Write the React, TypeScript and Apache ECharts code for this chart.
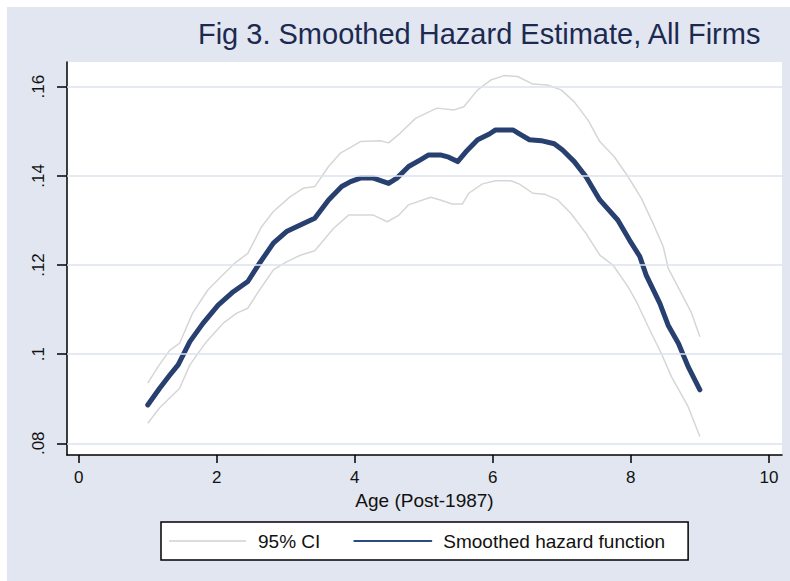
import React, { useEffect, useRef } from "react";
import * as echarts from "echarts";

const titleText = "Fig 3. Smoothed Hazard Estimate, All Firms";
const xAxisTitle = "Age (Post-1987)";
const xTicks = [0, 2, 4, 6, 8, 10];
const yTicks = [0.08, 0.1, 0.12, 0.14, 0.16];

const ageMain = [1.0, 1.17, 1.32, 1.44, 1.61, 1.8, 2.02, 2.24, 2.45, 2.62, 2.82, 3.01, 3.21, 3.42, 3.62, 3.81, 3.94, 4.08, 4.27, 4.49, 4.61, 4.78, 4.95, 5.07, 5.24, 5.36, 5.49, 5.61, 5.78, 5.95, 6.04, 6.29, 6.41, 6.53, 6.7, 6.89, 7.01, 7.18, 7.35, 7.55, 7.81, 7.98, 8.13, 8.22, 8.42, 8.54, 8.69, 8.83, 9.0];
const hazard = [0.0886, 0.0923, 0.0953, 0.0976, 0.1028, 0.1069, 0.111, 0.114, 0.1163, 0.1204, 0.1249, 0.1275, 0.129, 0.1305, 0.1346, 0.1376, 0.1387, 0.1395, 0.1395, 0.1383, 0.1395, 0.1421, 0.1436, 0.1447, 0.1447, 0.1442, 0.1432, 0.1454, 0.1481, 0.1494, 0.1503, 0.1503, 0.1492, 0.1481, 0.1479, 0.1472, 0.1458, 0.1432, 0.1398, 0.1346, 0.1301, 0.1256, 0.1219, 0.1178, 0.1114, 0.1065, 0.1024, 0.0972, 0.092];

const ageUpper = [1.0, 1.15, 1.32, 1.46, 1.65, 1.87, 2.09, 2.26, 2.45, 2.65, 2.82, 3.06, 3.25, 3.42, 3.62, 3.79, 3.94, 4.08, 4.37, 4.49, 4.66, 4.88, 5.19, 5.44, 5.58, 5.78, 5.97, 6.16, 6.36, 6.58, 6.79, 6.99, 7.18, 7.38, 7.55, 7.76, 7.96, 8.15, 8.32, 8.47, 8.54, 8.73, 8.88, 9.0];
const upper = [0.0935, 0.0972, 0.1009, 0.1024, 0.1092, 0.1144, 0.1178, 0.1204, 0.1226, 0.1286, 0.132, 0.1353, 0.1372, 0.1376, 0.1421, 0.1451, 0.1464, 0.1477, 0.1479, 0.1474, 0.1496, 0.1529, 0.1552, 0.1548, 0.1555, 0.1593, 0.1615, 0.1625, 0.1623, 0.1606, 0.1604, 0.1593, 0.1566, 0.1525, 0.1477, 0.1443, 0.1398, 0.135, 0.1294, 0.1241, 0.1193, 0.1137, 0.1092, 0.1039];

const ageLower = [1.0, 1.17, 1.34, 1.46, 1.61, 1.85, 2.09, 2.29, 2.45, 2.62, 2.82, 3.01, 3.21, 3.42, 3.69, 3.91, 4.08, 4.27, 4.47, 4.64, 4.78, 5.1, 5.24, 5.41, 5.56, 5.65, 5.85, 6.04, 6.26, 6.38, 6.58, 6.75, 6.94, 7.13, 7.35, 7.55, 7.74, 7.96, 8.08, 8.25, 8.44, 8.59, 8.83, 9.0];
const lower = [0.0845, 0.0879, 0.0905, 0.0923, 0.0976, 0.1028, 0.1069, 0.1092, 0.1103, 0.1144, 0.1189, 0.1207, 0.1222, 0.1232, 0.1282, 0.1312, 0.1312, 0.1312, 0.1297, 0.1312, 0.1335, 0.1352, 0.1346, 0.1337, 0.1337, 0.1361, 0.1382, 0.1389, 0.1389, 0.1382, 0.1361, 0.1359, 0.1346, 0.1316, 0.1271, 0.1222, 0.12, 0.1151, 0.1118, 0.1062, 0.1002, 0.0949, 0.0882, 0.0815];

const FONT = "'Liberation Sans', Arial, Helvetica, sans-serif";
const CI_COLOR = "#d6d6d6";
const MAIN_COLOR = "#27406f";

const pairs = (xs: number[], ys: number[]) => xs.map((x, i) => [x, ys[i]]);

export default function App() {
  const ref = useRef<HTMLDivElement>(null);
  useEffect(() => {
    document.body.style.overflow = "hidden";
    const chart = echarts.init(ref.current!, undefined, { renderer: "svg" });
    chart.setOption({
      animation: false,
      backgroundColor: "#e1e6f0",
      textStyle: { fontFamily: FONT },
      title: {
        text: titleText,
        right: 28,
        top: 12,
        padding: 0,
        textStyle: { fontSize: 29, fontWeight: "normal", color: "#1c2a50", fontFamily: FONT },
      },
      grid: {
        left: 60,
        right: 8,
        top: 55,
        bottom: 126,
        show: true,
        backgroundColor: "#ffffff",
        borderWidth: 0,
      },
      xAxis: {
        type: "value",
        min: -0.17,
        max: 10.19,
        name: xAxisTitle,
        nameLocation: "middle",
        nameGap: 30,
        nameTextStyle: { fontSize: 19, color: "#111", fontFamily: FONT },
        axisLine: { show: true, onZero: false, lineStyle: { color: "#000", width: 1.5 } },
        axisTick: { show: true, length: 8, customValues: xTicks, lineStyle: { color: "#000", width: 1.5 } },
        axisLabel: { customValues: xTicks, fontSize: 17, color: "#111", margin: 14, fontFamily: FONT },
        splitLine: { show: false },
      },
      yAxis: {
        type: "value",
        min: 0.07737,
        max: 0.16555,
        axisLine: { show: true, onZero: false, lineStyle: { color: "#000", width: 1.5 } },
        axisTick: { show: true, length: 10, customValues: yTicks, lineStyle: { color: "#000", width: 1.5 } },
        axisLabel: {
          customValues: yTicks,
          rotate: 90,
          fontSize: 17,
          color: "#111",
          margin: 20,
          fontFamily: FONT,
          formatter: (v: number) => String(Number(v.toFixed(2))).replace(/^0/, ""),
        },
        splitLine: { show: false },
      },
      legend: {
        left: 154,
        top: 515,
        padding: [9.5, 23, 9.5, 7],
        itemWidth: 77,
        itemHeight: 19,
        itemGap: 33,
        backgroundColor: "#ffffff",
        borderColor: "#000",
        borderWidth: 1.5,
        borderRadius: 0,
        textStyle: { fontSize: 19, color: "#111", fontFamily: FONT, padding: [0, 0, 0, 7] },
        data: [
          { name: "95% CI", lineStyle: { width: 2, color: "#dcdcdc" }, itemStyle: { opacity: 0 } },
          { name: "Smoothed hazard function", lineStyle: { width: 2, color: "#2b4a80" }, itemStyle: { opacity: 0 } },
        ],
      },
      series: [
        {
          name: "gridlines",
          type: "line",
          data: [],
          z: 1,
          silent: true,
          markLine: {
            silent: true,
            symbol: ["none", "none"],
            label: { show: false },
            lineStyle: { color: "#dde3ee", width: 1.5, type: "solid" },
            data: yTicks.map((v) => ({ yAxis: v })),
          },
        },
        {
          name: "95% CI",
          type: "line",
          data: pairs(ageUpper, upper),
          symbol: "none",
          z: 2,
          lineStyle: { color: CI_COLOR, width: 1.5 },
          itemStyle: { color: CI_COLOR },
        },
        {
          name: "95% CI",
          type: "line",
          data: pairs(ageLower, lower),
          symbol: "none",
          z: 2,
          lineStyle: { color: CI_COLOR, width: 1.5 },
          itemStyle: { color: CI_COLOR },
        },
        {
          name: "Smoothed hazard function",
          type: "line",
          data: pairs(ageMain, hazard),
          symbol: "none",
          z: 3,
          lineStyle: { color: MAIN_COLOR, width: 5, cap: "round", join: "round" },
          itemStyle: { color: MAIN_COLOR },
        },
      ],
    });
    return () => chart.dispose();
  }, []);
  return (
    <div
      ref={ref}
      style={{ position: "fixed", left: 7, top: 7, width: 783, height: 574 }}
    />
  );
}
